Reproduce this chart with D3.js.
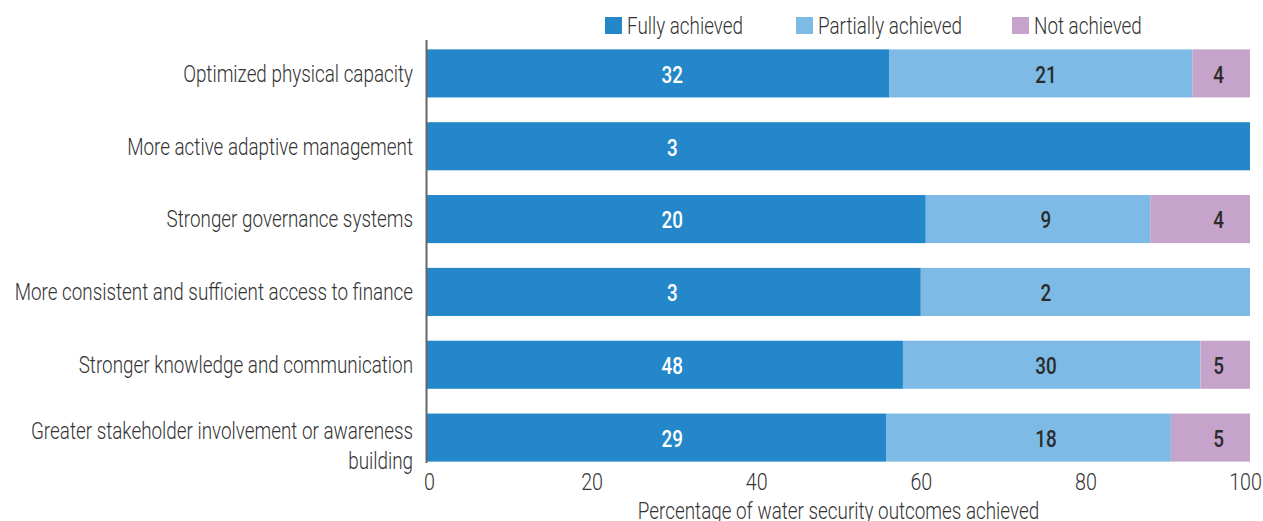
<!DOCTYPE html>
<html>
<head>
<meta charset="utf-8">
<script src="https://cdn.jsdelivr.net/npm/d3@7"></script>
<style>
    body { margin: 0; background: #fff; }
    svg text { font-family: "Roboto", "Liberation Sans", sans-serif; font-weight: 300; }
</style>
</head>
<body>
<div class="bar-chart"></div>
<script>
// categories, top to bottom
const categories = [
    "Optimized physical capacity",
    "More active adaptive management",
    "Stronger governance systems",
    "More consistent and sufficient access to finance",
    "Stronger knowledge and communication",
    "Greater stakeholder involvement or awareness building"
];
const fullyAchieved     = [32, 3, 20, 3, 48, 29];
const partiallyAchieved = [21, 0, 9, 2, 30, 18];
const notAchieved       = [4, 0, 4, 0, 5, 5];
const seriesNames = ["Fully achieved", "Partially achieved", "Not achieved"];
// where the count labels sit, in % along the axis
const labelAt = [29.8, 75.2, 96.2];
const xTicks = [0, 20, 40, 60, 80, 100];

// no condensed font installed, so squeeze text horizontally
const SX = 0.82;
let place = (sel, x, y) => sel.attr("x", 0).attr("y", 0)
    .attr("transform", "translate(" + x + "," + y + ") scale(" + SX + ",1)");

let initChart = () => {
    let W = 1263, H = 521;
    let margin = {top: 37, right: 13, bottom: 47, left: 427},
        width = W - margin.left - margin.right,
        height = H - margin.top - margin.bottom;

    let svg = d3.select(".bar-chart")
        .append("svg")
        .attr("width", W)
        .attr("height", H)
        .append("g")
        .attr("transform", "translate(" + margin.left + "," + margin.top + ")");

    let rows = categories.map((c, i) => {
        let total = fullyAchieved[i] + partiallyAchieved[i] + notAchieved[i];
        return {
            name: c,
            counts: [fullyAchieved[i], partiallyAchieved[i], notAchieved[i]],
            full: fullyAchieved[i] / total * 100,
            partial: partiallyAchieved[i] / total * 100,
            not: notAchieved[i] / total * 100
        }
    });
    let keys = ["full", "partial", "not"];

    let x = d3.scaleLinear().domain([0, 100]).range([0, width]);
    let y = d3.scaleBand()
        .domain(categories)
        .range([0, height])
        .paddingInner(0.34)
        .paddingOuter(0.17);

    let color = d3.scaleOrdinal()
        .domain(keys)
        .range(["#2487c9", "#7dbbe6", "#c6a3cb"]);

    let stacked = d3.stack().keys(keys)(rows);

    // bars
    svg.append("g")
        .selectAll("g")
        .data(stacked)
        .enter()
        .append("g")
            .attr("fill", d => color(d.key))
            .selectAll("rect")
            .data(d => d)
            .enter()
            .append("rect")
            .attr("x", d => x(d[0]))
            .attr("y", d => y(d.data.name))
            .attr("width", d => x(d[1]) - x(d[0]))
            .attr("height", y.bandwidth());

    // count labels
    keys.forEach((k, s) => {
        svg.append("g")
            .selectAll("text")
            .data(rows.filter(r => r.counts[s] > 0))
            .enter()
            .append("text")
            .each(function(d) { place(d3.select(this), x(labelAt[s]), y(d.name) + y.bandwidth() / 2 + 1); })
            .attr("dy", "0.36em")
            .attr("text-anchor", "middle")
            .style("font-size", "23px")
            .style("font-weight", "500")
            .attr("fill", s == 0 ? "#ffffff" : "#2b2b2b")
            .text(d => d.counts[s]);
    });

    // y axis line + category labels
    svg.append("line")
        .attr("x1", -0.5).attr("x2", -0.5)
        .attr("y1", 3).attr("y2", height - 11)
        .attr("stroke", "#666")
        .attr("stroke-width", 2);

    svg.append("g")
        .selectAll("text")
        .data(categories)
        .enter()
        .append("text")
        .attr("text-anchor", "end")
        .style("font-size", "23px")
        .attr("fill", "#333")
        .each(function(d) {
            let t = d3.select(this);
            let cy = y(d) + y.bandwidth() / 2;
            place(t, -14, cy);
            if (d.startsWith("Greater")) {
                t.append("tspan").attr("x", 0).attr("y", -7).attr("dy", "0.36em").text("Greater stakeholder involvement or awareness");
                t.append("tspan").attr("x", 0).attr("y", 23).attr("dy", "0.36em").text("building");
            } else {
                t.attr("dy", "0.36em").text(d);
            }
        });

    // x axis
    let xAxis = svg.append("g")
        .attr("transform", "translate(0," + (height - 9) + ")")
        .call(d3.axisBottom(x).tickValues(xTicks).tickSize(0).tickPadding(8));
    xAxis.select(".domain").remove();
    xAxis.selectAll("text")
        .style("font-size", "24px")
        .attr("fill", "#333")
        .attr("transform", d => "translate(" + (d == 100 ? -5 : d == 0 ? 2 : 0) + ",0) scale(" + SX + ",1)");

    svg.append("text")
        .attr("text-anchor", "middle")
        .style("font-size", "23px")
        .attr("fill", "#333")
        .call(place, width / 2, height + 37)
        .attr("dy", "0.36em")
        .text("Percentage of water security outcomes achieved");

    // legend
    let legendX = [605, 796, 1012];
    let legend = d3.select(".bar-chart svg").append("g");
    seriesNames.forEach((n, i) => {
        legend.append("rect")
            .attr("x", legendX[i]).attr("y", 17)
            .attr("width", 17).attr("height", 17)
            .attr("fill", color(keys[i]));
        legend.append("text")
            .call(place, legendX[i] + 22, 26)
            .attr("dy", "0.36em")
            .style("font-size", "23px")
            .attr("fill", "#333")
            .text(n);
    });
}
initChart();
</script>
</body>
</html>
